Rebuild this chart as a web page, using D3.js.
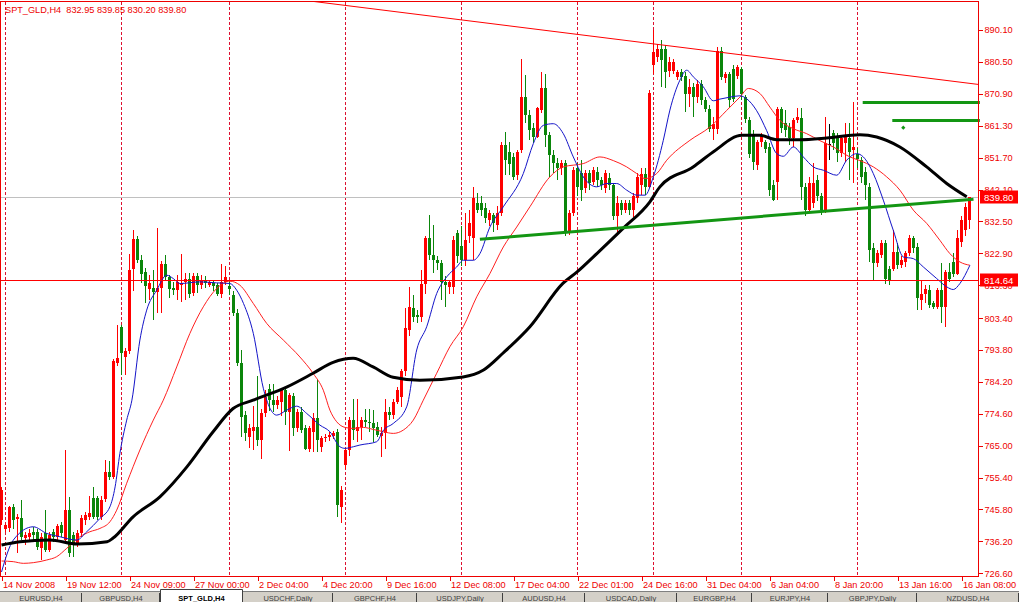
<!DOCTYPE html>
<html><head><meta charset="utf-8">
<script src="https://cdn.jsdelivr.net/npm/d3@7"></script>
<style>
body{margin:0;background:#fff;}
svg{display:block;}
text{font-family:"Liberation Sans",Arial,sans-serif;}
</style>
</head><body>
<svg id="c" width="1019" height="602"></svg>
<script>
// ---------- DATA ----------
const symbolTitle = "SPT_GLD,H4  832.95 839.85 830.20 839.80";
const opens = [
742.6,740.0,740.1,746.6,743.0,743.1,737.3,737.6,739.1,739.1,
734.1,738.6,733.6,739.0,737.6,741.0,736.6,745.6,738.1,735.6,
738.6,742.6,743.6,749.2,749.2,743.6,748.9,757.2,755.7,790.0,
800.8,791.6,793.4,818.3,827.1,821.0,817.3,812.3,812.6,811.3,
812.6,819.6,815.9,812.6,811.8,813.5,814.3,815.3,811.0,816.0,
813.3,815.0,813.5,814.0,813.3,810.8,814.3,813.0,810.3,804.8,
790.0,774.2,767.5,769.5,770.5,766.7,774.7,782.0,778.7,777.2,
778.2,781.7,775.2,779.9,770.2,775.2,770.2,763.9,769.2,773.2,
764.7,767.2,767.5,767.8,769.0,746.6,759.2,763.7,772.7,769.5,
770.7,772.7,772.2,771.7,770.5,768.0,768.8,775.2,774.2,778.2,
779.6,787.4,799.8,806.3,804.3,803.8,813.8,827.4,822.4,820.9,
819.9,814.3,812.8,812.8,829.0,825.0,821.0,828.0,827.4,838.0,
838.0,836.5,833.0,834.5,831.5,835.0,855.5,853.4,852.0,846.4,
853.9,869.9,864.5,860.5,858.0,866.0,872.5,858.5,852.5,850.0,
848.5,850.0,829.4,835.0,848.5,847.0,842.5,847.0,844.5,847.5,
845.0,842.5,845.5,843.5,834.0,838.0,836.0,838.0,836.0,839.5,
843.5,846.9,843.0,879.5,882.0,884.5,884.5,877.9,877.7,875.9,
877.4,876.4,870.9,872.9,869.9,873.9,868.9,866.4,860.4,860.4,
883.9,875.6,876.9,878.4,876.4,878.4,869.9,862.9,858.9,849.4,
856.4,856.4,854.9,843.4,844.4,866.4,862.0,861.0,857.5,863.0,
863.5,843.0,836.0,838.0,845.0,840.0,835.9,855.9,859.0,858.0,
853.0,856.0,857.5,853.9,852.9,851.0,847.5,843.0,824.4,819.9,
822.4,825.9,818.3,818.3,823.4,819.4,820.4,822.9,827.4,824.9,
808.8,810.8,811.8,807.8,806.8,811.8,806.8,817.3,820.4,816.8,
826.4,829.9,832.95];
const highs = [
752.5,741.5,747.0,747.5,744.5,748.6,739.0,740.0,740.6,740.0,
738.6,745.6,739.0,740.0,741.5,742.0,763.7,749.6,739.0,739.5,
744.0,745.0,750.0,752.6,750.0,750.0,760.7,760.4,791.0,801.3,
801.3,794.5,822.8,829.9,828.0,822.5,818.5,816.3,817.8,830.6,
820.5,822.3,816.5,814.3,816.3,822.8,817.0,817.0,817.0,817.0,
816.3,816.0,815.0,815.0,814.0,819.6,819.0,815.0,811.5,806.0,
793.8,775.5,771.5,777.0,786.0,776.0,781.7,783.7,783.7,780.0,
782.0,782.0,781.0,781.0,776.0,776.7,771.2,771.0,774.7,784.7,
768.0,768.5,769.0,769.5,770.0,753.0,764.0,773.5,779.0,779.0,
773.5,776.0,776.0,775.7,772.0,770.5,779.0,776.5,779.0,782.7,
788.0,806.3,812.8,810.3,805.8,817.9,828.0,834.4,831.4,822.0,
821.0,816.0,815.0,828.0,830.0,831.0,835.0,836.0,843.0,841.0,
840.0,838.0,836.0,835.0,837.0,856.5,859.5,856.4,853.0,854.0,
881.4,876.5,866.0,862.0,867.0,877.5,877.0,859.5,854.0,851.5,
851.0,851.0,836.0,849.0,850.0,851.0,848.0,848.0,849.0,849.0,
846.0,848.0,847.0,844.0,840.0,839.0,839.0,839.0,841.0,847.0,
848.5,848.5,872.0,890.0,886.0,887.0,885.5,882.0,881.4,878.0,
878.4,877.5,875.4,874.0,875.0,875.0,870.0,867.4,863.9,884.9,
885.0,877.5,877.5,879.5,879.5,879.0,870.5,864.0,860.0,857.0,
859.0,857.0,856.0,845.0,867.0,867.0,866.0,862.0,863.5,866.5,
866.5,844.0,846.0,850.0,846.5,841.0,863.9,861.9,860.0,859.0,
858.0,862.0,862.0,868.4,854.5,852.0,849.0,844.0,825.9,824.0,
827.0,827.0,819.0,829.9,825.9,822.0,823.5,828.4,828.0,826.0,
814.8,813.5,813.3,808.5,812.5,819.9,818.0,819.9,822.9,829.9,
834.0,838.0,839.85];
const lows = [
741.0,739.0,739.0,740.0,732.6,736.6,735.0,736.0,736.6,733.6,
730.6,733.0,733.0,736.0,736.6,737.6,736.0,731.6,731.6,734.6,
737.6,741.0,742.6,743.0,742.6,742.6,748.0,754.6,755.0,789.0,
786.3,786.3,792.5,811.6,820.0,814.0,808.0,808.8,802.8,805.0,
804.8,814.5,809.5,810.3,808.8,808.3,808.8,809.5,810.0,811.0,
812.3,812.5,812.8,811.5,810.0,809.5,813.5,810.5,804.0,789.0,
767.7,766.5,764.2,763.7,765.0,761.0,773.5,775.5,775.0,776.0,
774.0,771.2,763.3,768.0,769.0,768.7,763.7,763.0,763.0,763.0,
763.0,766.0,766.5,767.0,743.6,741.6,758.0,762.0,766.7,766.0,
766.7,770.7,769.0,766.2,767.5,761.7,764.0,772.7,773.0,777.5,
776.6,786.0,798.0,802.3,801.8,802.3,810.8,821.0,817.0,818.0,
808.8,806.8,810.8,810.8,820.0,819.0,819.0,826.0,820.8,835.0,
834.0,832.0,831.0,829.4,830.0,834.0,846.4,846.4,845.0,845.0,
853.0,862.0,857.0,856.0,857.5,865.0,855.0,846.0,847.0,845.0,
846.5,828.0,828.5,834.0,840.0,838.5,841.0,842.0,843.5,843.0,
842.0,841.0,842.0,833.0,828.4,834.5,835.0,834.5,833.9,838.0,
840.5,840.5,842.5,877.0,880.5,873.0,872.5,876.0,876.9,875.0,
874.9,865.4,866.9,863.9,868.0,867.4,865.5,859.4,856.9,858.9,
875.0,874.0,866.5,868.5,875.5,869.0,862.0,851.5,848.0,847.9,
855.0,853.0,840.0,838.5,839.0,859.0,858.0,855.5,855.0,862.0,
839.0,834.0,835.0,836.5,838.5,834.5,834.9,850.9,854.0,850.5,
852.0,850.5,845.0,844.0,848.5,844.0,839.0,820.4,814.8,818.9,
821.5,813.8,813.3,817.5,818.3,818.5,818.9,822.0,823.0,805.8,
805.8,808.0,806.3,806.0,806.0,801.8,800.8,814.3,815.8,816.3,
824.9,828.0,830.2];
const closes = [
751.7,741.0,746.6,742.6,743.6,737.6,738.1,738.6,738.1,734.6,
737.6,733.6,738.1,737.6,740.8,738.6,745.6,732.6,735.6,738.6,
743.1,744.1,744.6,743.6,743.6,748.6,757.2,755.7,790.5,791.5,
792.8,793.6,818.0,827.1,821.0,816.8,813.0,814.0,811.3,812.6,
819.8,815.9,812.3,811.8,814.3,814.0,815.3,810.8,816.0,813.3,
815.0,814.0,814.3,813.0,810.8,814.3,815.8,812.3,804.8,789.8,
773.7,768.8,770.2,770.5,766.7,774.7,779.6,778.7,777.2,778.7,
781.7,775.2,780.2,770.2,775.2,769.7,763.9,770.2,773.2,766.7,
767.2,767.7,768.2,768.8,747.2,751.7,763.7,772.7,769.7,770.7,
772.7,772.0,771.7,770.2,768.2,768.8,775.2,774.2,778.2,781.7,
787.5,800.3,806.8,803.8,803.8,813.8,827.4,822.4,820.9,819.9,
814.3,813.3,814.3,826.9,822.0,821.0,827.0,832.0,839.5,836.0,
836.0,833.5,835.0,831.9,835.0,855.5,850.9,849.9,846.0,853.4,
869.9,864.5,860.0,858.0,866.5,872.5,858.5,852.5,850.0,848.5,
850.0,829.4,834.9,848.0,843.0,842.0,847.0,844.0,848.0,845.0,
843.5,847.0,843.5,834.0,838.0,836.0,838.0,836.0,840.0,846.0,
846.9,843.0,871.0,883.4,884.5,881.0,877.5,880.4,880.4,877.4,
875.9,870.9,872.9,869.9,873.9,868.9,866.4,860.4,861.9,883.9,
875.9,876.9,869.1,869.4,878.9,870.9,863.4,852.9,850.4,856.4,
858.4,854.4,841.9,839.0,866.4,860.5,860.0,857.5,863.0,864.0,
843.0,836.0,844.0,844.0,840.0,836.0,856.0,855.9,856.0,853.0,
857.5,858.5,853.5,854.9,851.4,846.0,843.5,824.0,819.9,822.9,
825.9,815.3,814.8,823.4,819.4,820.9,822.9,827.4,824.4,809.3,
810.8,812.3,807.3,806.8,811.8,806.8,817.3,815.3,816.8,827.4,
832.9,836.9,839.8];

// moving averages: [bar index, price]
const maFast = [[0,727.0],[2.95,736.6],[7.95,740.6],[11.3,738.6],[14.6,737.6],[18.8,736.6],[21.3,739.1],[24.6,743.1],[27.1,746.6],[28.4,752.6],[29.6,762.7],[31.3,772.7],[32.6,778.7],[34.6,796.8],[36.3,805.8],[38.8,811.8],[41.3,816.3],[42.95,815.3],[44.6,813.8],[49.6,814.3],[53.8,814.0],[57.1,813.8],[58.8,811.8],[60.5,807.8],[62.95,798.8],[65.45,782.3],[68.8,774.2],[71.3,775.7],[73.8,776.9],[76.3,774.7],[79.6,771.2],[82.1,769.2],[84.6,764.7],[85.9,764.2],[88,764.7],[89.6,765.2],[93.8,766.2],[95.5,769.7],[97.95,771.7],[101.3,776.7],[103.8,793.8],[106.3,800.8],[108.8,810.8],[111.3,815.8],[113.8,818.8],[115.45,820.8],[117.95,820.8],[119.6,822.8],[122.1,830.8],[125.45,836.9],[130.45,846.9],[132.95,855.9],[135.45,861.4],[137.95,861.9],[140.45,858.9],[142.95,851.9],[145.45,845.9],[148.8,842.9],[151.3,843.9],[153.8,843.9],[156.3,841.9],[158.8,840.4],[160.9,840.4],[162.95,845.9],[165.45,856.9],[167.1,866.0],[169.6,875.0],[171.3,878.0],[172.95,876.0],[175.45,873.0],[177.95,868.8],[179.6,869.3],[182.1,869.9],[184.6,870.3],[186.3,869.4],[188.8,865.8],[191.3,859.8],[193.8,852.9],[195.45,852.1],[197.95,854.9],[200.45,851.9],[202.95,848.9],[205.45,847.9],[208.8,846.4],[211.3,850.9],[213.8,852.9],[215.45,851.9],[217.95,846.9],[220.45,838.9],[222.95,829.8],[225.45,821.8],[227.95,821.3],[230.45,818.8],[233.8,815.3],[236.3,812.8],[237.95,812.0],[239.6,813.8],[242.1,819.3]];
const maMid = [[0,730.3],[2.95,730.1],[5.45,729.6],[7.95,729.8],[11.3,730.6],[13.8,731.6],[16.3,734.1],[19.6,737.6],[22.1,739.1],[24.6,740.1],[27.1,742.1],[28.8,745.6],[31.3,753.7],[34.6,763.7],[37.95,772.7],[40.45,778.7],[43.8,788.7],[47.1,798.8],[50.45,806.8],[53.8,812.3],[57.1,814.5],[59.6,813.3],[62.95,807.8],[66.3,801.8],[70.45,796.8],[74.6,791.7],[77.95,786.7],[80.45,781.7],[82.1,775.7],[83.8,772.2],[85.9,770.5],[87.95,770.2],[90.45,770.5],[92.95,769.9],[95.45,769.2],[97.95,768.7],[100.45,769.7],[102.95,772.7],[105.45,778.7],[108.8,786.8],[112.1,794.8],[115.45,800.8],[118.8,809.8],[122.1,816.8],[125.45,824.8],[128.8,830.8],[132.1,836.9],[137.1,845.9],[140.45,848.9],[145.45,849.9],[149.6,851.9],[152.95,850.8],[156.3,848.9],[158.8,846.9],[160.9,845.4],[163.8,846.9],[166.3,850.9],[172.1,856.9],[177.1,860.9],[181.3,865.9],[184.6,869.9],[186.7,872.5],[189.6,871.0],[192.1,866.9],[194.6,862.9],[197.95,860.4],[201.3,858.9],[204.6,856.8],[207.95,854.9],[212.1,851.9],[214.6,850.8],[217.95,848.9],[221.3,845.9],[224.6,841.9],[227.95,835.9],[231.3,831.9],[234.6,826.8],[237.1,822.8],[239.6,820.3],[242.1,819.3]];
const maSlow = [[0,735.1],[4.6,736.1],[12.1,736.6],[18.9,735.4],[26.4,736.1],[27.9,737.2],[32.9,743.6],[39.6,749.6],[46.4,758.7],[52.9,769.2],[57.9,776.2],[62.9,778.7],[71.4,782.7],[77.9,786.8],[82.9,790.1],[87.9,791.3],[92.9,788.7],[97.9,785.6],[104.6,784.7],[115.4,785.7],[120.4,787.7],[125.4,792.9],[132.1,800.8],[140.4,813.9],[143.9,817.3],[148.9,822.9],[155.4,830.4],[162.1,838.4],[164.6,842.9],[172.9,848.9],[177.9,853.4],[185.1,858.4],[189.6,858.4],[193.8,857.1],[199.6,857.1],[206.3,857.6],[214.6,858.6],[218.8,857.9],[224.6,854.9],[231.3,848.9],[236.3,843.9],[241.3,839.9]];

// drawn objects [bar index, price]
const redTrend = [[60, 901.4], [245, 873.6]];
const greenTrend = [[119.6, 827.1], [243.0, 839.2]];
const greenLevel1 = [[215.3, 868.3], [244.6, 868.3]];
const greenLevel2 = [[222.7, 862.9], [244.6, 862.9]];
const greenMark = [225.45, 860.7];
const bidPrice = 839.80;
const levelPrice = 814.64;

const weekStarts = [1, 30, 57, 86, 115, 144, 163, 185, 214];
const xTickIdx = [0,16,32,48,64,80,96,112,128,144,160,176,192,208,224,240];
const xTickLabels = ["14 Nov 2008","19 Nov 12:00","24 Nov 09:00","27 Nov 00:00","2 Dec 04:00","4 Dec 20:00","9 Dec 16:00","12 Dec 08:00","17 Dec 04:00","22 Dec 01:00","24 Dec 16:00","31 Dec 04:00","6 Jan 04:00","8 Jan 20:00","13 Jan 16:00","16 Jan 08:00"];
const yTickVals = [890.10,880.50,870.90,861.30,851.70,842.10,832.50,822.90,813.30,803.40,793.80,784.20,774.60,765.00,755.40,745.80,736.20,726.60];
const tabNames = ["EURUSD,H4","GBPUSD,H4","SPT_GLD,H4","USDCHF,Daily","GBPCHF,H4","USDJPY,Daily","AUDUSD,H4","USDCAD,Daily","EURGBP,H4","EURJPY,H4","GBPJPY,Daily","NZDUSD,H4"];
const tabEdges = [0,82,160,243,333,417,503,585,677,752,828,917,1019];
const activeTab = 2;

// ---------- DRAW ----------
const svg = d3.select("#c");
const PR = 978, PB = 576;
const x = d3.scaleLinear().domain([0, 242]).range([1.5, 969.5]);
const y = d3.scaleLinear().domain([726.6, 890.1]).range([573.3, 30]);
const RED = "#ee0000", BULL = "#ff0000", BEAR = "#0b860b", LINEGREEN = "#139613";
const FS = "9.2px";

svg.append("rect").attr("width",1019).attr("height",602).attr("fill","#fff");
svg.append("defs").append("clipPath").attr("id","plot")
  .append("rect").attr("x",1).attr("y",2).attr("width",PR-1).attr("height",PB-2);
const plot = svg.append("g").attr("clip-path","url(#plot)");

// period separators
plot.append("g").attr("shape-rendering","crispEdges")
  .selectAll("line").data(weekStarts).join("line")
  .attr("x1",d=>x(d)).attr("x2",d=>x(d)).attr("y1",2).attr("y2",PB)
  .attr("stroke","#dd1030").attr("stroke-width",1).attr("stroke-dasharray","3,2");

// bid line
plot.append("line").attr("x1",0).attr("x2",PR).attr("y1",Math.floor(y(bidPrice))+0.5).attr("y2",Math.floor(y(bidPrice))+0.5)
  .attr("stroke","#c0c0c0");

// candles
const idx = d3.range(closes.length);
const cg = plot.append("g").attr("shape-rendering","crispEdges");
const col = i => closes[i] > opens[i] ? BULL : (closes[i] < opens[i] ? BEAR : "#000");
cg.selectAll("line.w").data(idx).join("line")
  .attr("x1",i=>x(i)).attr("x2",i=>x(i))
  .attr("y1",i=>y(highs[i])).attr("y2",i=>y(lows[i]))
  .attr("stroke",col).attr("stroke-width",1);
cg.selectAll("rect.b").data(idx).join("rect")
  .attr("x",i=>x(i)-1.5).attr("width",3)
  .attr("y",i=>y(Math.max(opens[i],closes[i])))
  .attr("height",i=>Math.max(1, Math.abs(y(opens[i])-y(closes[i]))))
  .attr("fill",col);

// moving averages
const ln = d3.line().x(d=>x(d[0])).y(d=>y(d[1])).curve(d3.curveMonotoneX);
plot.append("path").attr("d",ln(maMid)).attr("fill","none").attr("stroke","#ff2020").attr("stroke-width",1);
plot.append("path").attr("d",ln(maFast)).attr("fill","none").attr("stroke","#1414c8").attr("stroke-width",1);
plot.append("path").attr("d",ln(maSlow)).attr("fill","none").attr("stroke","#000").attr("stroke-width",3).attr("stroke-linejoin","round");

// level line
plot.append("line").attr("x1",0).attr("x2",PR).attr("y1",Math.floor(y(levelPrice))+0.5).attr("y2",Math.floor(y(levelPrice))+0.5)
  .attr("stroke","#ff0000");

// trend lines
const sl = d3.line().x(d=>x(d[0])).y(d=>y(d[1]));
plot.append("path").attr("d",sl(redTrend)).attr("stroke","#ff0000").attr("stroke-width",1).attr("fill","none");
plot.append("path").attr("d",sl(greenTrend)).attr("stroke",LINEGREEN).attr("stroke-width",3).attr("fill","none");
svg.append("path").attr("d",sl(greenLevel1)).attr("stroke",LINEGREEN).attr("stroke-width",3).attr("fill","none");
svg.append("path").attr("d",sl(greenLevel2)).attr("stroke",LINEGREEN).attr("stroke-width",3).attr("fill","none");
svg.append("rect").attr("x",x(greenMark[0])-1.5).attr("y",y(greenMark[1])-1.5).attr("width",3).attr("height",3)
  .attr("fill",LINEGREEN).attr("transform",`rotate(45 ${x(greenMark[0])} ${y(greenMark[1])})`);

// frame
const frame = svg.append("g").attr("shape-rendering","crispEdges");
frame.append("line").attr("x1",0.5).attr("x2",0.5).attr("y1",1).attr("y2",PB).attr("stroke",RED);
frame.append("line").attr("x1",0).attr("x2",PR).attr("y1",1.5).attr("y2",1.5).attr("stroke",RED);
frame.append("line").attr("x1",PR+0.5).attr("x2",PR+0.5).attr("y1",1).attr("y2",PB+1).attr("stroke",RED);
frame.append("line").attr("x1",0).attr("x2",PR+1).attr("y1",PB+0.5).attr("y2",PB+0.5).attr("stroke",RED);

// right axis
const ya = d3.axisRight(y).tickValues(yTickVals).tickFormat(d3.format(".2f")).tickSize(4).tickPadding(2);
const yg = svg.append("g").attr("transform",`translate(${PR+0.5},0)`).call(ya);
yg.select(".domain").remove();
yg.selectAll("line").attr("stroke",RED).attr("shape-rendering","crispEdges");
yg.selectAll("text").attr("fill",RED).style("font-size",FS).style("font-family","'Liberation Sans',Arial,sans-serif");

// bottom axis
const xa = d3.axisBottom(x).tickValues(xTickIdx).tickFormat((d,i)=>xTickLabels[i]).tickSize(4).tickPadding(2);
const xg = svg.append("g").attr("transform",`translate(0,${PB+0.5})`).call(xa);
xg.select(".domain").remove();
xg.selectAll("line").attr("stroke",RED).attr("shape-rendering","crispEdges");
xg.selectAll("text").attr("fill",RED).attr("text-anchor","start").attr("x",1).attr("y",5).attr("dy","0.71em")
  .style("font-size",FS).style("font-family","'Liberation Sans',Arial,sans-serif");

// price tags
function tag(p){
  const yy = Math.floor(y(p));
  svg.append("rect").attr("x",PR+2).attr("y",yy-6.5).attr("width",38).attr("height",13).attr("fill","#ff0000");
  svg.append("text").attr("x",PR+6).attr("y",yy+3.5).attr("fill","#fff").style("font-size","9.6px").text(p.toFixed(2));
}
tag(bidPrice);
tag(levelPrice);

// title
svg.append("text").attr("x",5).attr("y",12.5).attr("fill",RED).style("font-size",FS).attr("xml:space","preserve").text(symbolTitle);

// tabs strip
const tabs = svg.append("g");
tabs.append("rect").attr("x",0).attr("y",591).attr("width",1019).attr("height",11).attr("fill","#d4d0c8");
tabs.append("line").attr("x1",0).attr("x2",1019).attr("y1",591.5).attr("y2",591.5).attr("stroke","#808080");
tabNames.forEach((n,i)=>{
  const x0 = tabEdges[i], x1 = tabEdges[i+1];
  if(i===activeTab){
    tabs.append("rect").attr("x",x0).attr("y",589).attr("width",x1-x0).attr("height",13).attr("fill","#fff");
    tabs.append("path").attr("d",`M${x0+0.5},602V589.5H${x1-0.5}V602`).attr("stroke","#404040").attr("fill","none");
  } else {
    tabs.append("line").attr("x1",x1-0.5).attr("x2",x1-0.5).attr("y1",593).attr("y2",602).attr("stroke","#404040");
  }
  tabs.append("text").attr("x",(x0+x1)/2).attr("y",600.5).attr("text-anchor","middle")
    .attr("fill",i===activeTab?"#000":"#404040").style("font-size","7.5px")
    .style("font-weight",i===activeTab?"bold":"normal").text(n);
});
</script>
</body></html>
